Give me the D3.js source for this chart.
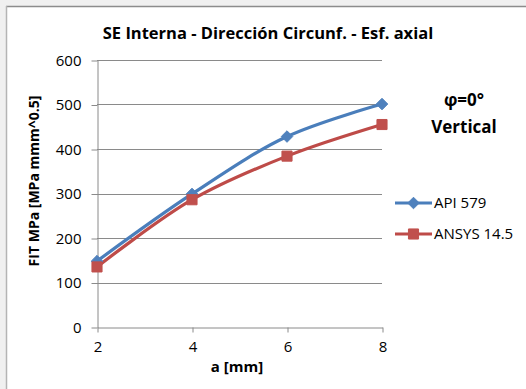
<!DOCTYPE html>
<html>
<head>
<meta charset="utf-8">
<script src="https://cdn.jsdelivr.net/npm/d3@7"></script>
<style>
  html, body { margin: 0; padding: 0; background: #f0f0f0; }
  svg { display: block; }
  text { font-family: "Open Sans", "Liberation Sans", sans-serif; fill: #000; }
</style>
</head>
<body>
<svg id="chart" width="526" height="389"></svg>
<script>
// Crack size a [mm]
const aValues = [2, 4, 6, 8];
// FIT values per method
const api579 = [148, 299, 428, 501];
const ansys145 = [135, 286, 384, 455];
const seriesNames = ["API 579", "ANSYS 14.5"];
const yTicks = [0, 100, 200, 300, 400, 500, 600];
const xTicks = [2, 4, 6, 8];

const svg = d3.select("#chart");
const W = 526, H = 389;

// chart area frame
svg.append("rect").attr("x", 7).attr("y", 7).attr("width", W - 7).attr("height", H - 7)
  .attr("fill", "#fff");
svg.append("line").attr("x1", 6).attr("x2", W).attr("y1", 6.5).attr("y2", 6.5)
  .attr("stroke", "#8c8c8c").attr("stroke-width", 1.5);
svg.append("line").attr("x1", 6.5).attr("x2", 6.5).attr("y1", 6).attr("y2", H)
  .attr("stroke", "#b4b4b4").attr("stroke-width", 1.5);

const plot = { left: 97, right: 382, top: 60, bottom: 327 };
const x = d3.scaleLinear().domain([2, 8]).range([plot.left, plot.right]);
const y = d3.scaleLinear().domain([0, 600]).range([plot.bottom, plot.top]);

// horizontal gridlines
svg.append("g").selectAll("line").data(yTicks.filter(d => d > 0)).join("line")
  .attr("x1", plot.left).attr("x2", plot.right)
  .attr("y1", d => Math.round(y(d)) + 0.5).attr("y2", d => Math.round(y(d)) + 0.5)
  .attr("stroke", "#8a8a8a").attr("stroke-width", 1);

// y axis
const yAxis = svg.append("g").attr("transform", `translate(${plot.left + 0.5},0.5)`)
  .call(d3.axisLeft(y).tickValues(yTicks).tickSize(6).tickPadding(10).tickSizeOuter(0)
    .tickFormat(d3.format("d")));
// x axis
const xAxis = svg.append("g").attr("transform", `translate(0.5,${plot.bottom + 0.5})`)
  .call(d3.axisBottom(x).tickValues(xTicks).tickSize(5).tickPadding(9).tickSizeOuter(0)
    .tickFormat(d3.format("d")));
[yAxis, xAxis].forEach(g => {
  g.select(".domain").attr("stroke", "#8a8a8a");
  g.selectAll(".tick line").attr("stroke", "#8a8a8a");
  g.selectAll(".tick text").style("font-size", "15px").attr("fill", "#000");
});

const line = d3.line().x(d => x(d[0])).y(d => y(d[1])).curve(d3.curveCatmullRom.alpha(0.5));

const colors = [
  { stroke: "#4a7ebb", fill: "#4f81bd" },
  { stroke: "#be4b48", fill: "#c0504d" }
];
const allSeries = [api579, ansys145];
const diamond = d3.symbol().type(d3.symbolDiamond2).size(85);
const square = d3.symbol().type(d3.symbolSquare2).size(130);

allSeries.forEach((vals, i) => {
  const pts = aValues.map((a, j) => [a, vals[j]]);
  svg.append("path").datum(pts).attr("d", line)
    .attr("fill", "none").attr("stroke", colors[i].stroke).attr("stroke-width", 3.2)
    .attr("stroke-linejoin", "round");
});
allSeries.forEach((vals, i) => {
  const sym = i === 0 ? diamond : square;
  svg.append("g").selectAll("path").data(aValues.map((a, j) => [a, vals[j]])).join("path")
    .attr("d", sym)
    .attr("transform", d => `translate(${x(d[0])},${y(d[1])})`)
    .attr("fill", colors[i].fill).attr("stroke", colors[i].fill).attr("stroke-width", 1);
});

// titles
svg.append("text").attr("x", 268).attr("y", 39).attr("text-anchor", "middle")
  .style("font-size", "16.5px").style("font-weight", "bold")
  .text("SE Interna - Dirección Circunf. - Esf. axial");
svg.append("text").attr("transform", "translate(39,181) rotate(-90)").attr("text-anchor", "middle")
  .style("font-size", "14px").style("font-weight", "bold")
  .text("FIT MPa [MPa mmm^0.5]");
svg.append("text").attr("x", 237).attr("y", 372).attr("text-anchor", "middle")
  .style("font-size", "15px").style("font-weight", "bold")
  .text("a [mm]");

// annotation
svg.append("text").attr("x", 464).attr("y", 106).attr("text-anchor", "middle")
  .style("font-size", "17px").style("font-weight", "bold").text("φ=0°");
svg.append("text").attr("x", 464).attr("y", 133).attr("text-anchor", "middle")
  .style("font-size", "17px").style("font-weight", "bold").text("Vertical");

// legend
const legendY = [203, 234];
seriesNames.forEach((name, i) => {
  const g = svg.append("g");
  g.append("line").attr("x1", 395).attr("x2", 432).attr("y1", legendY[i]).attr("y2", legendY[i])
    .attr("stroke", colors[i].stroke).attr("stroke-width", 3.2);
  g.append("path").attr("d", i === 0 ? diamond : square)
    .attr("transform", `translate(413.5,${legendY[i]})`)
    .attr("fill", colors[i].fill).attr("stroke", colors[i].fill);
  g.append("text").attr("x", 434).attr("y", legendY[i] + 5)
    .style("font-size", "15px").text(name);
});
</script>
</body>
</html>
